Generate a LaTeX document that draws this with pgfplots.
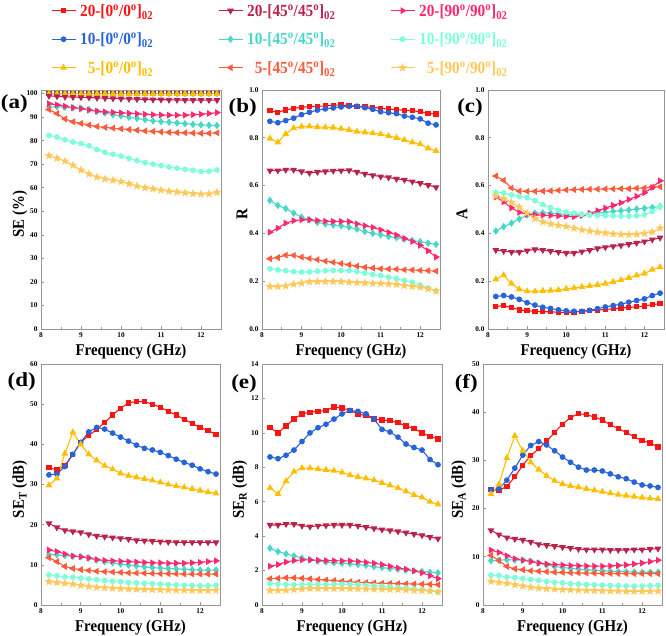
\documentclass[border=0pt]{standalone}
\usepackage{pgfplots}
\pgfplotsset{compat=1.18}
\usepackage{pgfplotstable}
\usetikzlibrary{plotmarks}
\usepackage{fontspec}
\setmainfont{Liberation Serif}
\newfontfamily\cfont[FakeStretch=0.9]{Liberation Serif}
\newfontfamily\wfont[FakeStretch=1.15]{Liberation Serif}

\definecolor{cRed}{RGB}{250,20,20}
\definecolor{cBlue}{RGB}{40,100,215}
\definecolor{cGold}{RGB}{255,190,0}
\definecolor{cMaroon}{RGB}{185,35,75}
\definecolor{cTurq}{RGB}{70,215,200}
\definecolor{cTomato}{RGB}{255,90,60}
\definecolor{cPink}{RGB}{255,40,110}
\definecolor{cAqua}{RGB}{125,255,220}
\definecolor{cLOrange}{RGB}{255,200,90}
\definecolor{cFrame}{RGB}{150,150,150}

\pgfdeclareplotmark{fstar}{%
  \pgfpathmoveto{\pgfpointpolar{90}{\pgfplotmarksize}}%
  \pgfpathlineto{\pgfpointpolar{126}{0.42\pgfplotmarksize}}%
  \pgfpathlineto{\pgfpointpolar{162}{\pgfplotmarksize}}%
  \pgfpathlineto{\pgfpointpolar{198}{0.42\pgfplotmarksize}}%
  \pgfpathlineto{\pgfpointpolar{234}{\pgfplotmarksize}}%
  \pgfpathlineto{\pgfpointpolar{270}{0.42\pgfplotmarksize}}%
  \pgfpathlineto{\pgfpointpolar{306}{\pgfplotmarksize}}%
  \pgfpathlineto{\pgfpointpolar{342}{0.42\pgfplotmarksize}}%
  \pgfpathlineto{\pgfpointpolar{18}{\pgfplotmarksize}}%
  \pgfpathlineto{\pgfpointpolar{54}{0.42\pgfplotmarksize}}%
  \pgfpathclose\pgfusepathqfillstroke}

\pgfplotsset{
  ser/.style={line width=1.1pt, mark size=2.3pt},
  s1/.style={ser, color=cRed, mark=square*, mark size=2.1pt, mark options={solid}},
  s2/.style={ser, color=cBlue, mark=*, mark options={solid}},
  s3/.style={ser, color=cGold, mark=triangle*, mark size=2.9pt, mark options={solid}},
  s4/.style={ser, color=cMaroon, mark=triangle*, mark size=2.9pt, mark options={solid,rotate=180}},
  s5/.style={ser, color=cTurq, mark=diamond*, mark size=2.9pt, mark options={solid}},
  s6/.style={ser, color=cTomato, mark=triangle*, mark size=2.9pt, mark options={solid,rotate=90}},
  s7/.style={ser, color=cPink, mark=triangle*, mark size=2.9pt, mark options={solid,rotate=-90}},
  s8/.style={ser, color=cAqua, mark=*, mark options={solid}},
  s9/.style={ser, color=cLOrange, mark=fstar, mark size=3pt, mark options={solid}},
  panel/.style={
    scale only axis, anchor=south west,
    xmin=8, xmax=12.5, xtick={8,9,10,11,12}, minor x tick num=1,
    axis line style={draw=cFrame, line width=0.8pt},
    tick align=inside, xtick pos=left, ytick pos=left,
    tick style={draw=cFrame, line width=0.6pt},
    major tick length=3pt, minor tick length=2pt,
    tick label style={font=\fontsize{7.3}{8}\selectfont\bfseries},
    /pgf/number format/assume math mode=true,
    label style={font=\cfont\fontsize{16.5}{17}\selectfont\bfseries},
    xlabel={Frequency (GHz)},
    ylabel style={at={(rel axis cs:0,0.48)}, anchor=center},
  },
  frac/.style={ymin=0, ymax=1, ytick={0,0.2,0.4,0.6,0.8,1.0},
    yticklabel style={/pgf/number format/.cd, fixed, fixed zerofill, precision=1}},
  legendbox/.style={hide axis, scale only axis, width=1pt, height=1pt,
    xmin=0, xmax=1, ymin=0, ymax=1, anchor=north west, legend cell align=left,
    legend style={at={(0,1)}, anchor=north west, draw=none, fill=none,
      inner sep=0pt, outer sep=0pt, row sep=10pt,
      font=\cfont\fontsize{17}{18}\selectfont\bfseries,
      nodes={inner sep=0pt, anchor=base west, text height=12pt, text depth=6.5pt},
      /tikz/every odd column/.append style={column sep=4pt}},
    legend image code/.code={\draw[mark repeat=2,mark phase=2,##1] plot coordinates {(0pt,5.8pt)(12pt,5.8pt)(24pt,5.8pt)};}},
}

\newcommand\plotall[1]{%
  \addplot[s1] table[x=x,y=s1]{#1};
  \addplot[s2] table[x=x,y=s2]{#1};
  \addplot[s3] table[x=x,y=s3]{#1};
  \addplot[s4] table[x=x,y=s4]{#1};
  \addplot[s5] table[x=x,y=s5]{#1};
  \addplot[s6] table[x=x,y=s6]{#1};
  \addplot[s7] table[x=x,y=s7]{#1};
  \addplot[s8] table[x=x,y=s8]{#1};
  \addplot[s9] table[x=x,y=s9]{#1};
}

% (a) SE (%)
\pgfplotstableread{
x s1 s2 s3 s4 s5 s6 s7 s8 s9
8.2  99.96 99.94 99.90 99.0 94.3 93.2 95.7 82.2 73.6
8.4  99.96 99.94 99.90 98.8 94.4 91.5 95.2 81.5 72.5
8.6  99.96 99.94 99.90 98.6 94.2 89.2 94.6 80.3 71.3
8.8  99.96 99.94 99.90 98.5 93.9 88.0 94.0 79.4 69.5
9.0  99.96 99.94 99.90 98.4 93.7 87.3 93.6 78.8 67.5
9.2  99.96 99.94 99.90 98.3 93.2 86.6 93.0 77.8 65.8
9.4  99.96 99.94 99.90 98.1 92.4 86.0 92.5 76.2 64.5
9.6  99.96 99.94 99.90 98.0 91.7 85.6 92.2 75.0 63.7
9.8  99.96 99.94 99.90 97.9 91.0 85.3 92.0 74.2 63.2
10.0 99.96 99.94 99.90 97.8 90.5 85.0 91.8 73.4 62.6
10.2 99.96 99.94 99.90 97.7 89.9 84.7 91.6 72.4 61.7
10.4 99.96 99.94 99.90 97.6 89.4 84.4 91.4 71.5 60.7
10.6 99.96 99.94 99.90 97.5 88.9 84.1 91.2 70.7 60.0
10.8 99.96 99.94 99.90 97.4 88.4 83.9 91.0 70.0 59.5
11.0 99.96 99.94 99.90 97.4 88.1 83.7 90.9 69.4 59.0
11.2 99.96 99.94 99.90 97.3 87.8 83.5 90.8 68.8 58.5
11.4 99.96 99.94 99.90 97.3 87.5 83.4 90.8 68.3 58.2
11.6 99.96 99.94 99.90 97.2 87.2 83.3 90.8 67.8 57.8
11.8 99.96 99.94 99.90 97.2 86.9 83.2 91.0 67.4 57.5
12.0 99.96 99.94 99.90 97.2 86.7 83.1 91.2 66.9 57.3
12.2 99.96 99.94 99.90 97.2 86.5 83.1 91.5 67.0 57.4
12.4 99.96 99.94 99.90 97.2 86.4 83.3 91.9 67.5 58.0
}\tA

% (b) R
\pgfplotstableread{
x s1 s2 s3 s4 s5 s6 s7 s8 s9
8.2  0.913 0.869 0.797 0.663 0.538 0.294 0.405 0.252 0.178
8.4  0.907 0.863 0.781 0.663 0.517 0.299 0.422 0.247 0.178
8.6  0.916 0.872 0.816 0.666 0.504 0.309 0.443 0.244 0.180
8.8  0.923 0.882 0.840 0.666 0.485 0.308 0.453 0.240 0.188
9.0  0.928 0.897 0.847 0.659 0.468 0.301 0.457 0.238 0.192
9.2  0.930 0.907 0.848 0.653 0.457 0.295 0.457 0.239 0.198
9.4  0.932 0.916 0.845 0.657 0.446 0.290 0.454 0.242 0.199
9.6  0.933 0.921 0.844 0.659 0.440 0.284 0.451 0.244 0.199
9.8  0.936 0.925 0.843 0.662 0.435 0.279 0.450 0.245 0.199
10.0 0.937 0.929 0.838 0.663 0.432 0.274 0.450 0.245 0.199
10.2 0.935 0.932 0.833 0.664 0.426 0.269 0.449 0.244 0.196
10.4 0.932 0.932 0.826 0.657 0.418 0.263 0.440 0.240 0.194
10.6 0.930 0.926 0.823 0.649 0.408 0.258 0.432 0.234 0.193
10.8 0.928 0.919 0.819 0.643 0.400 0.255 0.425 0.228 0.191
11.0 0.923 0.909 0.815 0.638 0.394 0.252 0.415 0.224 0.191
11.2 0.920 0.905 0.808 0.634 0.387 0.251 0.404 0.217 0.189
11.4 0.918 0.901 0.800 0.628 0.382 0.250 0.393 0.210 0.187
11.6 0.915 0.891 0.791 0.624 0.376 0.248 0.379 0.203 0.182
11.8 0.913 0.886 0.781 0.617 0.370 0.247 0.366 0.195 0.178
12.0 0.909 0.879 0.773 0.610 0.365 0.245 0.350 0.184 0.175
12.2 0.903 0.861 0.756 0.602 0.359 0.244 0.327 0.171 0.168
12.4 0.900 0.854 0.745 0.593 0.354 0.242 0.301 0.159 0.159
}\tB

% (c) A
\pgfplotstableread{
x s1 s2 s3 s4 s5 s6 s7 s8 s9
8.2  0.094 0.136 0.208 0.330 0.410 0.640 0.552 0.572 0.557
8.4  0.098 0.140 0.225 0.326 0.428 0.622 0.532 0.569 0.545
8.6  0.090 0.134 0.190 0.322 0.443 0.590 0.507 0.561 0.530
8.8  0.080 0.124 0.166 0.322 0.460 0.577 0.488 0.555 0.510
9.0  0.076 0.110 0.158 0.328 0.477 0.576 0.480 0.550 0.485
9.2  0.074 0.100 0.157 0.333 0.485 0.576 0.478 0.537 0.462
9.4  0.072 0.091 0.160 0.330 0.486 0.577 0.476 0.521 0.448
9.6  0.072 0.086 0.161 0.326 0.484 0.578 0.475 0.508 0.440
9.8  0.070 0.080 0.163 0.322 0.482 0.580 0.473 0.497 0.434
10.0 0.068 0.076 0.168 0.318 0.479 0.582 0.472 0.489 0.429
10.2 0.070 0.074 0.172 0.318 0.478 0.583 0.470 0.485 0.422
10.4 0.074 0.074 0.176 0.324 0.477 0.584 0.475 0.480 0.415
10.6 0.076 0.078 0.180 0.330 0.481 0.585 0.484 0.477 0.410
10.8 0.079 0.085 0.185 0.337 0.485 0.585 0.495 0.476 0.405
11.0 0.082 0.092 0.190 0.342 0.488 0.586 0.506 0.474 0.402
11.2 0.085 0.098 0.197 0.346 0.492 0.586 0.517 0.473 0.398
11.4 0.088 0.104 0.205 0.350 0.495 0.587 0.528 0.472 0.396
11.6 0.090 0.112 0.214 0.355 0.498 0.587 0.542 0.472 0.395
11.8 0.093 0.119 0.224 0.360 0.502 0.589 0.555 0.474 0.397
12.0 0.096 0.126 0.232 0.366 0.505 0.590 0.570 0.478 0.400
12.2 0.102 0.140 0.248 0.374 0.508 0.594 0.592 0.492 0.406
12.4 0.106 0.150 0.259 0.382 0.513 0.595 0.620 0.512 0.422
}\tC

% (d) SE_T
\pgfplotstableread{
x s1 s2 s3 s4 s5 s6 s7 s8 s9
8.2  34.2 32.4 29.8 20.3 12.5 11.8 13.7 7.5 5.8
8.4  33.6 32.6 31.5 19.3 12.5 10.8 13.3 7.3 5.6
8.6  34.7 34.5 37.7 18.6 12.3 9.6 12.7 7.0 5.4
8.8  37.5 37.5 43.0 18.3 12.1 9.1 12.2 6.9 5.2
9.0  40.5 40.5 40.0 18.1 12.0 8.8 12.0 6.7 4.9
9.2  42.2 43.1 37.5 17.6 11.7 8.6 11.7 6.5 4.6
9.4  43.7 44.2 36.0 17.2 11.2 8.4 11.3 6.3 4.4
9.6  45.4 43.8 34.7 17.0 10.8 8.3 11.1 6.1 4.3
9.8  47.3 42.8 33.8 16.8 10.5 8.2 11.0 5.9 4.2
10.0 49.0 41.8 32.8 16.6 10.2 8.1 10.9 5.8 4.1
10.2 50.3 40.8 32.2 16.4 9.9 8.0 10.8 5.6 4.0
10.4 50.7 39.8 31.8 16.1 9.7 7.95 10.7 5.5 3.95
10.6 50.6 39.0 31.4 16.0 9.5 7.9 10.6 5.4 3.9
10.8 50.0 38.6 31.0 15.9 9.3 7.85 10.5 5.3 3.85
11.0 49.2 38.0 30.5 15.8 9.2 7.8 10.5 5.2 3.8
11.2 48.2 37.2 30.0 15.7 9.1 7.8 10.4 5.1 3.75
11.4 47.3 36.3 29.6 15.6 9.0 7.75 10.4 5.0 3.7
11.6 46.2 35.5 29.3 15.6 8.9 7.7 10.4 4.9 3.7
11.8 45.2 34.8 28.9 15.6 8.8 7.7 10.5 4.85 3.65
12.0 44.2 33.9 28.5 15.6 8.7 7.7 10.6 4.8 3.6
12.2 43.4 33.2 28.1 15.6 8.7 7.7 10.8 4.8 3.6
12.4 42.5 32.6 27.8 15.6 8.7 7.7 11.0 4.9 3.7
}\tD

% (e) SE_R
\pgfplotstableread{
x s1 s2 s3 s4 s5 s6 s7 s8 s9
8.2  10.3 8.6 6.8 4.65 3.3 1.52 2.25 1.26 0.85
8.4  10.0 8.5 6.45 4.65 3.1 1.55 2.35 1.22 0.85
8.6  10.4 8.7 7.2 4.7 2.97 1.58 2.5 1.2 0.86
8.8  10.8 9.0 7.75 4.7 2.85 1.58 2.58 1.18 0.9
9.0  11.1 9.5 7.95 4.6 2.72 1.55 2.62 1.18 0.93
9.2  11.2 10.0 7.95 4.55 2.63 1.52 2.62 1.18 0.96
9.4  11.25 10.3 7.9 4.6 2.55 1.48 2.6 1.2 0.96
9.6  11.3 10.5 7.85 4.62 2.5 1.45 2.58 1.2 0.96
9.8  11.5 10.8 7.8 4.65 2.45 1.42 2.57 1.21 0.96
10.0 11.45 11.1 7.7 4.65 2.42 1.38 2.56 1.21 0.96
10.2 11.3 11.3 7.55 4.65 2.4 1.35 2.56 1.2 0.95
10.4 11.1 11.25 7.45 4.6 2.35 1.32 2.53 1.18 0.94
10.6 11.0 11.1 7.35 4.52 2.3 1.3 2.48 1.15 0.93
10.8 10.8 10.8 7.25 4.45 2.23 1.28 2.43 1.12 0.92
11.0 10.75 10.2 7.1 4.38 2.17 1.26 2.35 1.09 0.92
11.2 10.7 10.05 6.95 4.33 2.12 1.25 2.25 1.06 0.91
11.4 10.6 9.75 6.8 4.27 2.08 1.24 2.15 1.02 0.9
11.6 10.4 9.35 6.6 4.2 2.03 1.23 2.08 0.99 0.87
11.8 10.25 9.15 6.4 4.12 1.98 1.22 1.98 0.94 0.85
12.0 10.0 9.0 6.25 4.05 1.95 1.21 1.87 0.9 0.84
12.2 9.8 8.45 6.0 3.95 1.9 1.2 1.7 0.82 0.8
12.4 9.65 8.15 5.85 3.85 1.87 1.18 1.53 0.76 0.76
}\tE

% (f) SE_A
\pgfplotstableread{
x s1 s2 s3 s4 s5 s6 s7 s8 s9
8.2  23.9 23.9 23.0 15.5 9.2 10.3 11.4 6.2 4.9
8.4  23.8 24.1 25.0 14.6 9.3 9.2 10.9 6.1 4.7
8.6  24.6 25.9 30.5 14.0 9.4 8.0 10.2 5.8 4.5
8.8  26.6 28.4 35.1 13.7 9.35 7.5 9.6 5.7 4.2
9.0  29.0 31.1 32.0 13.5 9.3 7.3 9.3 5.5 3.95
9.2  31.0 33.1 29.6 13.1 9.1 7.1 9.0 5.3 3.7
9.4  32.4 33.9 28.1 12.6 8.7 7.0 8.7 5.1 3.5
9.6  34.0 33.2 26.8 12.4 8.3 6.9 8.5 4.9 3.4
9.8  35.8 32.0 25.8 12.2 8.0 6.8 8.4 4.7 3.3
10.0 37.5 30.7 25.1 12.0 7.8 6.75 8.3 4.6 3.2
10.2 38.9 29.6 24.7 11.8 7.6 6.7 8.2 4.45 3.15
10.4 39.7 28.6 24.4 11.6 7.45 6.65 8.15 4.35 3.1
10.6 39.5 28.0 24.1 11.5 7.3 6.6 8.1 4.25 3.05
10.8 39.0 28.0 23.8 11.5 7.2 6.6 8.05 4.2 3.0
11.0 38.4 27.8 23.5 11.5 7.1 6.55 8.05 4.1 2.95
11.2 37.4 27.2 23.2 11.4 7.0 6.55 8.1 4.05 2.9
11.4 36.6 26.6 22.9 11.4 6.95 6.5 8.2 4.0 2.9
11.6 35.8 26.2 22.7 11.4 6.9 6.5 8.3 3.95 2.85
11.8 34.9 25.5 22.5 11.5 6.85 6.5 8.5 3.9 2.85
12.0 34.1 24.9 22.3 11.5 6.8 6.5 8.7 3.9 2.85
12.2 33.6 24.7 22.1 11.6 6.8 6.5 9.0 4.0 2.85
12.4 32.8 24.4 22.0 11.7 6.8 6.5 9.3 4.1 2.9
}\tF

\newcommand\dg{\textsuperscript{o}}

\begin{document}
\begin{tikzpicture}
\path[use as bounding box] (0pt,0pt) rectangle (666pt,636pt);

% legends
\begin{axis}[legendbox, at={(51pt,631.5pt)}]
\addlegendimage{s1}\addlegendentry{\textcolor{cRed}{20-[0\dg/0\dg]\textsubscript{02}}}
\addlegendimage{s2}\addlegendentry{\textcolor{cBlue}{10-[0\dg/0\dg]\textsubscript{02}}}
\addlegendimage{s3}\addlegendentry{\textcolor{cGold}{\phantom{1}5-[0\dg/0\dg]\textsubscript{02}}}
\end{axis}
\begin{axis}[legendbox, at={(218pt,631.5pt)}]
\addlegendimage{s4}\addlegendentry{\textcolor{cMaroon}{20-[45\dg/45\dg]\textsubscript{02}}}
\addlegendimage{s5}\addlegendentry{\textcolor{cTurq}{10-[45\dg/45\dg]\textsubscript{02}}}
\addlegendimage{s6}\addlegendentry{\textcolor{cTomato}{\phantom{1}5-[45\dg/45\dg]\textsubscript{02}}}
\end{axis}
\begin{axis}[legendbox, at={(390pt,631.5pt)}]
\addlegendimage{s7}\addlegendentry{\textcolor{cPink}{20-[90\dg/90\dg]\textsubscript{02}}}
\addlegendimage{s8}\addlegendentry{\textcolor{cAqua}{10-[90\dg/90\dg]\textsubscript{02}}}
\addlegendimage{s9}\addlegendentry{\textcolor{cLOrange}{\phantom{1}5-[90\dg/90\dg]\textsubscript{02}}}
\end{axis}

% (a)
\begin{axis}[panel, name=pa, at={(41pt,307pt)}, width=180pt, height=239pt,
  ymin=0, ymax=101.5, ytick={0,10,...,100}, ylabel={SE (\%)},
  ylabel style={yshift=21pt}]
\plotall{\tA}
\end{axis}
% (b)
\begin{axis}[panel, frac, name=pb, at={(262pt,307pt)}, width=178pt, height=239pt, ylabel={R},
  ylabel style={yshift=20pt}]
\plotall{\tB}
\end{axis}
% (c)
\begin{axis}[panel, frac, name=pc, at={(488pt,307pt)}, width=176pt, height=239pt, ylabel={A},
  ylabel style={yshift=26pt}]
\plotall{\tC}
\end{axis}
% (d)
\begin{axis}[panel, name=pd, at={(41pt,31pt)}, width=179pt, height=241pt,
  ymin=0, ymax=60, ytick={0,10,...,60}, ylabel={SE\textsubscript{T} (dB)},
  ylabel style={yshift=21pt}]
\plotall{\tD}
\end{axis}
% (e)
\begin{axis}[panel, name=pe, at={(262pt,31pt)}, width=180pt, height=241pt,
  ymin=0, ymax=14, ytick={0,2,...,14}, ylabel={SE\textsubscript{R} (dB)},
  ylabel style={yshift=22pt}]
\plotall{\tE}
\end{axis}
% (f)
\begin{axis}[panel, name=pf, at={(483pt,31pt)}, width=179pt, height=241pt,
  ymin=0, ymax=50, ytick={0,10,...,50}, ylabel={SE\textsubscript{A} (dB)},
  ylabel style={yshift=24pt}]
\plotall{\tF}
\end{axis}

\foreach \p/\t/\dx/\dy in {pa/a/-13/-4,pb/b/-5/-8,pc/c/-5/-8,pd/d/-5/-8,pe/e/-5/-10,pf/f/-5/-10}{
  \node[font=\wfont\fontsize{20}{22}\selectfont\bfseries, anchor=north east, inner sep=0pt]
    at ([xshift=\dx pt,yshift=\dy pt]\p.north west) {(\t)};
}
\end{tikzpicture}
\end{document}
